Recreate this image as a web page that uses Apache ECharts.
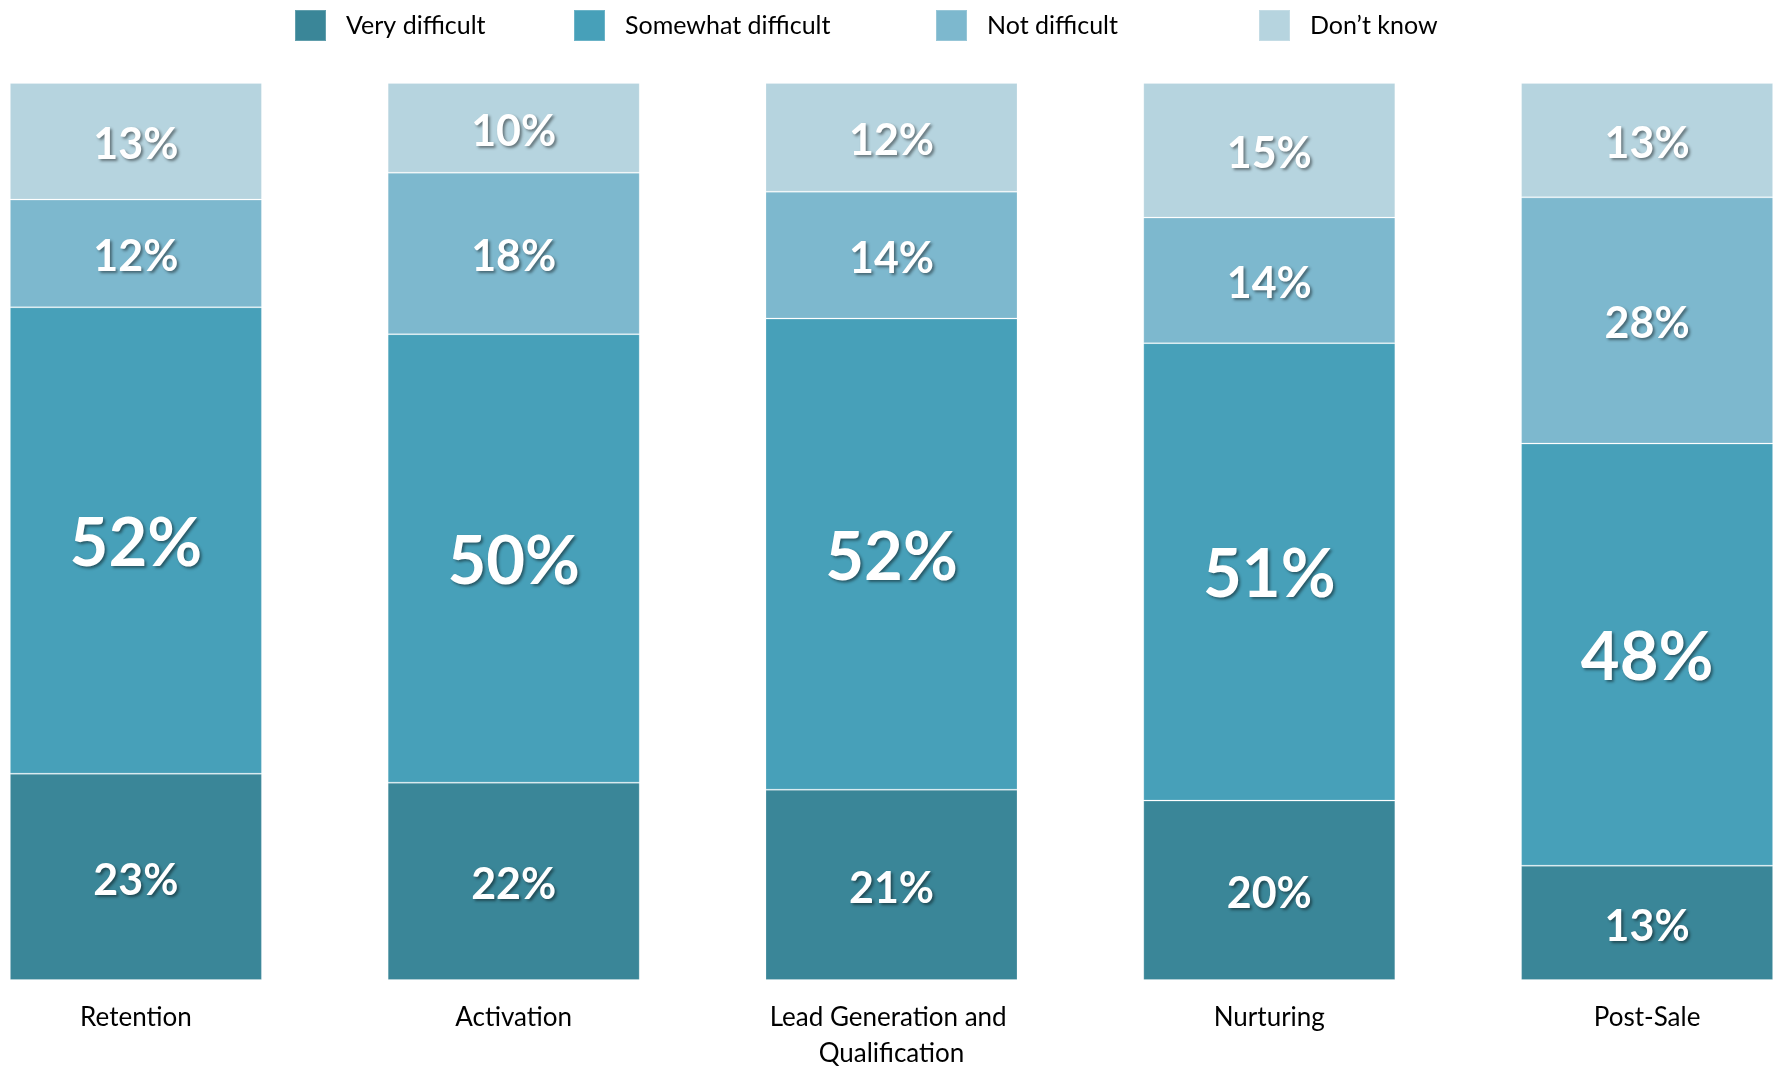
<!DOCTYPE html>
<html>
<head>
<meta charset="utf-8">
<script src="https://cdn.jsdelivr.net/npm/echarts@6/dist/echarts.min.js"></script>
<style>
  html, body { margin: 0; padding: 0; background: #fff; }
  #chart { width: 1775px; height: 1066px; }
</style>
</head>
<body>
<div id="chart"></div>
<script>
// 数据
const categories = ['Retention', 'Activation', 'Lead Generation and Qualification', 'Nurturing', 'Post-Sale']
const veryDifficult = [23, 22, 21, 20, 13]
const somewhatDifficult = [52, 50, 52, 51, 48]
const notDifficult = [12, 18, 14, 14, 28]
const dontKnow = [13, 10, 12, 15, 13]
const seriesNames = ['Very difficult', 'Somewhat difficult', 'Not difficult', 'Don\u2019t know']
const colors = ['#3a8698', '#47a0b9', '#7db8ce', '#b6d4df']

const raw = [veryDifficult, somewhatDifficult, notDifficult, dontKnow]
// 100% 堆叠：每个类别按总和归一化
const totals = categories.map((c, i) => raw.reduce((s, arr) => s + arr[i], 0))

const font = 'Lato, "Open Sans", sans-serif'

const chart = echarts.init(document.getElementById('chart'))

// 图例位置（每项单独放置）
const legendLeft = [294, 573, 935, 1258]

chart.setOption({
  animation: false,
  legend: seriesNames.map((name, i) => ({
    data: [name],
    left: legendLeft[i],
    top: 9,
    padding: 0,
    itemWidth: 31,
    itemHeight: 31,
    icon: 'rect',
    textStyle: { fontFamily: font, fontSize: 25, color: '#000', padding: [0, 0, 0, 15] },
    selectedMode: false
  })),
  grid: {
    left: -53,
    right: -61,
    top: 83,
    bottom: 86,
    outerBoundsMode: 'none'
  },
  xAxis: {
    type: 'category',
    data: categories,
    axisLine: { show: false },
    axisTick: { show: false },
    axisLabel: {
      interval: 0,
      fontFamily: font,
      fontSize: 26,
      color: '#000',
      lineHeight: 36,
      margin: 20,
      width: 260,
      overflow: 'break'
    }
  },
  yAxis: {
    type: 'value',
    min: 0,
    max: 100,
    show: false,
    splitLine: { show: false }
  },
  series: raw.map((arr, si) => ({
    name: seriesNames[si],
    type: 'bar',
    stack: 'total',
    barWidth: 252,
    itemStyle: {
      color: colors[si],
      borderColor: 'rgba(255,255,255,0.2)',
      borderWidth: 1
    },
    label: {
      show: true,
      position: 'inside',
      offset: [0, 4],
      formatter: p => arr[p.dataIndex] + '%',
      fontFamily: font,
      fontWeight: 'bold',
      fontSize: si === 1 ? 67 : 43,
      color: '#fff',
      textShadowColor: 'rgba(0,0,0,0.45)',
      textShadowBlur: 3,
      textShadowOffsetX: 2,
      textShadowOffsetY: 2
    },
    data: arr.map((v, i) => v / totals[i] * 100)
  }))
})
</script>
</body>
</html>
